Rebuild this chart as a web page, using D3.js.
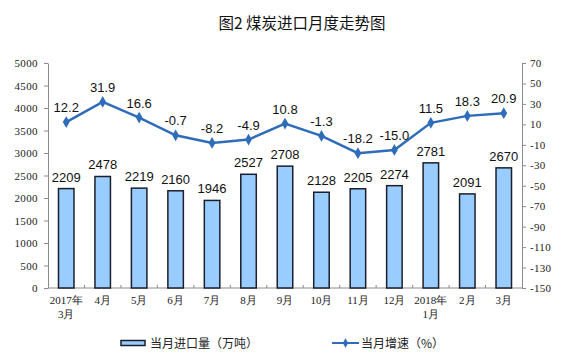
<!DOCTYPE html>
<html><head><meta charset="utf-8">
<script src="https://cdn.jsdelivr.net/npm/d3@7"></script>
<style>body{margin:0;background:#fff}svg{display:block}</style>
</head><body><svg id="c" width="561" height="357"></svg>
<script>
const categories = [["2017年","3月"],["4月"],["5月"],["6月"],["7月"],["8月"],["9月"],["10月"],["11月"],["12月"],["2018年","1月"],["2月"],["3月"]];
const imports = [2209,2478,2219,2160,1946,2527,2708,2128,2205,2274,2781,2091,2670];
const growth = [12.2,31.9,16.6,-0.7,-8.2,-4.9,10.8,-1.3,-18.2,-15.0,11.5,18.3,20.9];
const leftTicks = [0,500,1000,1500,2000,2500,3000,3500,4000,4500,5000];
const rightTicks = [70,50,30,10,-10,-30,-50,-70,-90,-110,-130,-150];
const title = "图2 煤炭进口月度走势图";
const legendBar = "当月进口量（万吨）";
const legendLine = "当月增速（%）";

const svg = d3.select("#c");
const L = 48, R = 522, T = 63, B = 288;
const idx = d3.range(categories.length);
const x = d3.scaleBand().domain(idx).range([L, R]);
const yL = d3.scaleLinear().domain([0, 5000]).range([B, T]);
const yR = d3.scaleLinear().domain([-150, 70]).range([B, T]);
const axisCol = "#8c8c8c";
const serif = "'Liberation Serif','DejaVu Serif',serif";
const sans = "'Liberation Sans',Arial,sans-serif";
const cjk = "'Noto Sans CJK SC',sans-serif";

svg.append("text").attr("x", 302).attr("y", 29).attr("text-anchor", "middle")
  .attr("font-family", cjk).attr("font-size", 15.5).attr("fill", "#111")
  .style("white-space", "pre").text(title);

// left axis
const gl = svg.append("g").attr("transform", `translate(${L},0)`)
  .call(d3.axisLeft(yL).tickValues(leftTicks).tickSize(4).tickSizeOuter(0).tickPadding(6).tickFormat(d => String(d)));
gl.select(".domain").attr("stroke", axisCol);
gl.selectAll(".tick line").attr("stroke", axisCol);
gl.selectAll("text").attr("font-family", serif).attr("font-size", 11).attr("fill", "#222").attr("letter-spacing", 0.4);

// right axis
const gr = svg.append("g").attr("transform", `translate(${R},0)`)
  .call(d3.axisRight(yR).tickValues(rightTicks).tickSize(4).tickSizeOuter(0).tickPadding(4).tickFormat(d => String(d)));
gr.select(".domain").attr("stroke", axisCol);
gr.selectAll(".tick line").attr("stroke", axisCol);
gr.selectAll("text").attr("font-family", serif).attr("font-size", 11).attr("fill", "#222").attr("letter-spacing", 0.3);

// x axis
svg.append("line").attr("x1", L).attr("x2", R).attr("y1", B).attr("y2", B).attr("stroke", axisCol);
svg.selectAll(".xt").data(d3.range(1, categories.length)).join("line")
  .attr("x1", d => x(d)).attr("x2", d => x(d)).attr("y1", B).attr("y2", B - 3).attr("stroke", axisCol);

const xl = svg.selectAll(".xl").data(idx).join("text")
  .attr("text-anchor", "middle").attr("font-family", serif).attr("font-size", 11).attr("fill", "#222");
xl.each(function(i){
  const t = d3.select(this);
  categories[i].forEach((s, k) => {
    t.append("tspan").attr("x", x(i) + x.bandwidth()/2).attr("y", 304 + k*14).text(s);
  });
});

// bars
const bw = 15.5;
svg.selectAll(".bar").data(idx).join("rect")
  .attr("x", i => x(i) + x.bandwidth()/2 - bw/2).attr("width", bw)
  .attr("y", i => yL(imports[i])).attr("height", i => B - yL(imports[i]))
  .attr("fill", "#99ccff").attr("stroke", "#1a1f2b").attr("stroke-width", 1.5);

svg.selectAll(".bl").data(idx).join("text")
  .attr("x", i => x(i) + x.bandwidth()/2).attr("y", i => yL(imports[i]) - 7)
  .attr("text-anchor", "middle").attr("font-family", sans).attr("font-size", 13).attr("fill", "#111")
  .text(i => imports[i]);

// line
const lineCol = "#2f6cba";
const line = d3.line().x(i => x(i) + x.bandwidth()/2).y(i => yR(growth[i]));
svg.append("path").datum(idx).attr("d", line).attr("fill", "none").attr("stroke", lineCol).attr("stroke-width", 2.5);
const sym = d3.symbol().type(d3.symbolDiamond).size(40);
svg.selectAll(".pt").data(idx).join("path")
  .attr("transform", i => `translate(${x(i) + x.bandwidth()/2},${yR(growth[i])})`)
  .attr("d", sym).attr("fill", lineCol);

svg.selectAll(".ll").data(idx).join("text")
  .attr("x", i => x(i) + x.bandwidth()/2).attr("y", i => yR(growth[i]) - 10)
  .attr("text-anchor", "middle").attr("font-family", sans).attr("font-size", 13).attr("fill", "#111")
  .text(i => growth[i].toFixed(1));

// legend
svg.append("rect").attr("x", 121).attr("y", 340.5).attr("width", 24).attr("height", 5)
  .attr("fill", "#99ccff").attr("stroke", "#1a1f2b").attr("stroke-width", 1.5);
svg.append("text").attr("x", 150).attr("y", 347.5).attr("font-family", cjk).attr("font-size", 12).attr("fill", "#222").text(legendBar);
svg.append("line").attr("x1", 332).attr("x2", 359).attr("y1", 343).attr("y2", 343).attr("stroke", lineCol).attr("stroke-width", 2);
svg.append("path").attr("transform", "translate(345.5,343)").attr("d", d3.symbol().type(d3.symbolDiamond).size(25)).attr("fill", lineCol);
svg.append("text").attr("x", 361).attr("y", 347.5).attr("font-family", cjk).attr("font-size", 12).attr("fill", "#222").text(legendLine);
</script></body></html>
